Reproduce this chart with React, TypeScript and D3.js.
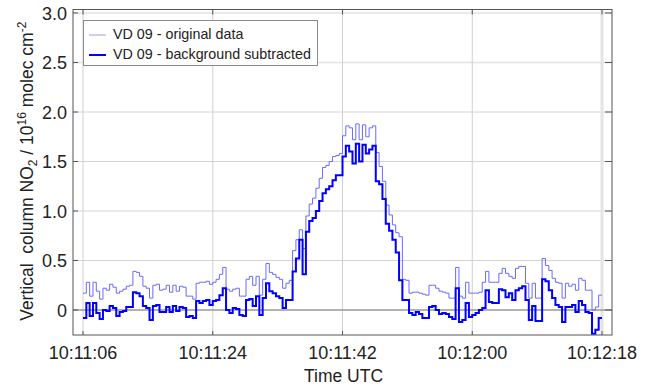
import React from "react";
import * as d3 from "d3";

// seconds after 10:11:00
const xTickSeconds = [6, 24, 42, 60, 78];
const xTickLabels = ["10:11:06", "10:11:24", "10:11:42", "10:12:00", "10:12:18"];
const yTicks = [0, 0.5, 1.0, 1.5, 2.0, 2.5, 3.0];
const yTickLabels = ["0", "0.5", "1.0", "1.5", "2.0", "2.5", "3.0"];
const startSecond = 6;
const endSecond = 78;

const seriesNames = ["VD 09 - original data", "VD 09 - background subtracted"];

const originalData = [
  0.17, 0.28, 0.14, 0.28, 0.19, 0.11, 0.22, 0.20, 0.26, 0.23,
  0.17, 0.19, 0.21, 0.24, 0.25, 0.39, 0.38, 0.34, 0.24, 0.22,
  0.12, 0.25, 0.26, 0.20, 0.21, 0.25, 0.18, 0.25, 0.19, 0.24,
  0.23, 0.14, 0.14, 0.11, 0.27, 0.28, 0.28, 0.29, 0.26, 0.28,
  0.31, 0.36, 0.43, 0.21, 0.19, 0.21, 0.22, 0.14, 0.14, 0.31,
  0.34, 0.25, 0.34, 0.15, 0.31, 0.47, 0.38, 0.36, 0.33, 0.31,
  0.22, 0.27, 0.30, 0.60, 0.71, 0.81, 0.62, 0.95, 1.07, 1.13,
  1.23, 1.33, 1.44, 1.46, 1.50, 1.55, 1.56, 1.58, 1.76, 1.86,
  1.84, 1.72, 1.88, 1.72, 1.87, 1.75, 1.84, 1.86, 1.59, 1.45,
  1.30, 1.06, 0.96, 0.86, 0.78, 0.74, 0.31, 0.30, 0.17, 0.18,
  0.18, 0.17, 0.16, 0.15, 0.25, 0.25, 0.22, 0.19, 0.18, 0.17,
  0.12, 0.12, 0.43, 0.14, 0.12, 0.28, 0.17, 0.17, 0.17, 0.18,
  0.28, 0.39, 0.28, 0.28, 0.28, 0.37, 0.42, 0.37, 0.34, 0.32,
  0.42, 0.44, 0.44, 0.27, 0.12, 0.27, 0.12, 0.12, 0.52, 0.45,
  0.40, 0.32, 0.28, 0.27, 0.12, 0.27, 0.24, 0.26, 0.20, 0.32,
  0.30, 0.20, 0.20, 0.00, 0.03, 0.15,
];

const subtractedData = [
  -0.08, 0.07, -0.06, 0.07, -0.03, -0.09, 0.0, -0.01, 0.04, 0.02,
  -0.06, -0.02, -0.01, 0.03, 0.03, 0.18, 0.17, 0.14, 0.04, 0.02,
  -0.10, 0.04, 0.05, -0.02, -0.02, 0.03, -0.02, 0.04, -0.01, 0.03,
  0.02, -0.07, -0.06, -0.08, 0.09, 0.07, 0.09, 0.10, 0.05, 0.09,
  0.10, 0.15, 0.22, 0.0, -0.03, 0.02, 0.01, -0.05, -0.06, 0.10,
  0.11, 0.04, 0.14, -0.05, 0.12, 0.27, 0.19, 0.17, 0.14, 0.12,
  0.02, 0.10, 0.10, 0.39, 0.52, 0.71, 0.36, 0.79, 0.90, 0.93,
  1.00, 1.10, 1.18, 1.22, 1.25, 1.31, 1.36, 1.36, 1.55, 1.66,
  1.60, 1.48, 1.68, 1.50, 1.67, 1.58, 1.62, 1.66, 1.30, 1.27,
  1.12, 0.87, 0.80, 0.71, 0.58, 0.30, 0.10, 0.10, -0.03, -0.05,
  -0.02, -0.04, -0.08, -0.08, 0.03, 0.04, 0.0, -0.04, -0.03, -0.04,
  -0.07, -0.09, 0.22, -0.12, -0.10, 0.07, -0.07, -0.05, -0.03, 0.0,
  0.02, 0.20, 0.08, 0.07, 0.07, 0.21, 0.20, 0.13, 0.17, 0.10,
  0.20, 0.22, 0.24, 0.10, -0.10, 0.04, -0.11, -0.11, 0.31, 0.29,
  0.20, 0.12, 0.05, 0.03, -0.12, 0.03, 0.03, 0.05, -0.02, 0.09,
  0.05, -0.02, -0.03, -0.24, -0.20, -0.08,
];

const W = 646;
const H = 386;
const left = 73;
const right = 612;
const top = 9.5;
const bottom = 335;
const font = "'Liberation Sans', Arial, Helvetica, sans-serif";

function toPoints(values: number[]): [number, number][] {
  const n = values.length;
  const dt = (endSecond - startSecond) / n;
  const pts: [number, number][] = values.map((v, i) => [startSecond + i * dt, v]);
  pts.push([endSecond, values[n - 1]]);
  return pts;
}

export default function App() {
  const pxPerSec = (602 - 83) / 72;
  const x = d3
    .scaleLinear()
    .domain([6 - (83 - left) / pxPerSec, 78 + (right - 602) / pxPerSec])
    .range([left, right]);
  const pxPerUnit = (310 - 13) / 3;
  const y = d3
    .scaleLinear()
    .domain([-(bottom - 310) / pxPerUnit, 3 + (13 - top) / pxPerUnit])
    .range([bottom, top]);

  const line = d3
    .line<[number, number]>()
    .x((d) => x(d[0]))
    .y((d) => y(d[1]))
    .curve(d3.curveStepAfter);

  const origPath = line(toPoints(originalData)) || "";
  const subPath = line(toPoints(subtractedData)) || "";

  return (
    <svg width={W} height={H} style={{ position: "absolute", left: 0, top: 0, background: "#fff" }}>
      <rect x={0} y={0} width={W} height={H} fill="#fff" />
      {/* grid */}
      {yTicks.map((t) => (
        <line key={"gy" + t} x1={left} x2={right} y1={y(t)} y2={y(t)} stroke={t === 2.5 ? "#e2e2e2" : "#d4d4d4"} strokeWidth={t === 2.5 ? 1.6 : 1} />
      ))}
      {xTickSeconds.map((t, i) => (
        <line key={"gx" + t} x1={x(t)} x2={x(t)} y1={top} y2={bottom} stroke={i === xTickSeconds.length - 1 ? "#e4e4e4" : "#d0d0d0"} strokeWidth={i === xTickSeconds.length - 1 ? 3 : 1} />
      ))}
      {/* zero line */}
      <line x1={left} x2={right} y1={y(0)} y2={y(0)} stroke="#7a7a7a" strokeWidth={1.2} />
      {/* data */}
      <path d={origPath} fill="none" stroke="#6a6aff" strokeWidth={1} />
      <path d={subPath} fill="none" stroke="#0000ff" strokeWidth={2} strokeLinejoin="miter" />
      {/* frame */}
      <rect x={left} y={top} width={right - left} height={bottom - top} fill="none" stroke="#555" strokeWidth={1} />
      {/* ticks */}
      {yTicks.map((t) => (
        <g key={"ty" + t}>
          <line x1={left} x2={left + 5} y1={y(t)} y2={y(t)} stroke="#555" />
          <line x1={right - 7} x2={right} y1={y(t)} y2={y(t)} stroke="#555" />
        </g>
      ))}
      {xTickSeconds.map((t) => (
        <g key={"tx" + t}>
          <line x1={x(t)} x2={x(t)} y1={bottom} y2={bottom - 4} stroke="#555" />
          <line x1={x(t)} x2={x(t)} y1={top} y2={top + 5} stroke="#555" />
        </g>
      ))}
      {/* tick labels */}
      {yTicks.map((t, i) => (
        <text key={"ly" + t} x={left - 6} y={y(t) + 6.5} textAnchor="end" fontSize={18} fontFamily={font} fill="#222">
          {yTickLabels[i]}
        </text>
      ))}
      {xTickSeconds.map((t, i) => (
        <text key={"lx" + t} x={x(t)} y={358.5} textAnchor="middle" fontSize={18} fontFamily={font} fill="#222">
          {xTickLabels[i]}
        </text>
      ))}
      {/* axis titles */}
      <text x={(left + right) / 2 + 1} y={382} textAnchor="middle" fontSize={17.5} fontFamily={font} fill="#222">
        Time UTC
      </text>
      <text transform={`translate(33, ${(top + bottom) / 2 - 1}) rotate(-90)`} textAnchor="middle" fontSize={17.5} fontFamily={font} fill="#222">
        Vertical{"\u00a0 "}column NO
        <tspan fontSize={12} dy={4}>2</tspan>
        <tspan dy={-4}> / 10</tspan>
        <tspan fontSize={12} dy={-7}>16</tspan>
        <tspan dy={7}> molec cm</tspan>
        <tspan fontSize={12} dy={-7}>-2</tspan>
      </text>
      {/* legend */}
      <rect x={83.5} y={20.5} width={234} height={45} fill="#fff" stroke="#8a8a8a" strokeWidth={1} />
      <line x1={89} x2={106} y1={35} y2={35} stroke="#9a9aff" strokeWidth={1} />
      <text x={113} y={38.5} fontSize={14.3} fontFamily={font} fill="#222">{seriesNames[0]}</text>
      <line x1={89} x2={106} y1={55} y2={55} stroke="#0000ff" strokeWidth={2} />
      <text x={113} y={58.5} fontSize={14.3} fontFamily={font} fill="#222">{seriesNames[1]}</text>
    </svg>
  );
}
